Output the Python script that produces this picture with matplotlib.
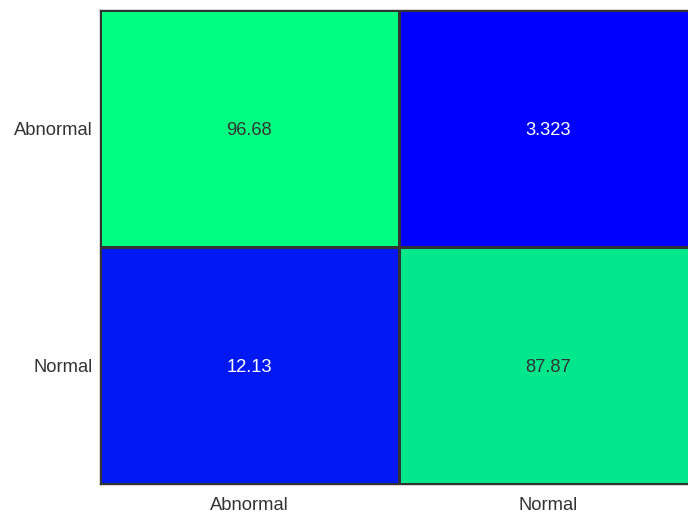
import numpy as np
import matplotlib
matplotlib.use("Agg")
import matplotlib.pyplot as plt

labels = ["Abnormal", "Normal"]
# row-normalised confusion matrix, percent
cm = np.array([[96.68, 3.323],
               [12.13, 87.87]])
cell_text = [["96.68", "3.323"], ["12.13", "87.87"]]

plt.rcParams['font.family'] = ['Liberation Sans', 'DejaVu Sans']

fig = plt.figure(figsize=(6.88, 5.13), dpi=100)
ax = fig.add_axes([0.1453, 0.0565, 0.869, 0.924])

ax.pcolormesh(cm, cmap="winter", vmin=cm.min(), vmax=cm.max(),
              edgecolor="#333333", linewidth=0.8)
ax.set_xlim(0, 2)
ax.set_ylim(2, 0)

for i in range(2):
    for j in range(2):
        frac = (cm[i, j] - cm.min()) / (cm.max() - cm.min())
        col = "#333333" if frac > 0.5 else "white"
        ax.text(j + 0.5, i + 0.5, cell_text[i][j], ha="center",
                va="center_baseline", fontsize=13.2, color=col)

ax.set_xticks([0.5, 1.5])
ax.set_xticklabels(labels)
ax.set_yticks([0.5, 1.5])
ax.set_yticklabels(labels)
ax.tick_params(length=0, labelsize=13.2, labelcolor="#333333")
ax.tick_params(axis="x", pad=9)
ax.tick_params(axis="y", pad=5)
for s in ax.spines.values():
    s.set_color("#333333")
    s.set_linewidth(1.0)

fig.savefig("out.png", dpi=100)
